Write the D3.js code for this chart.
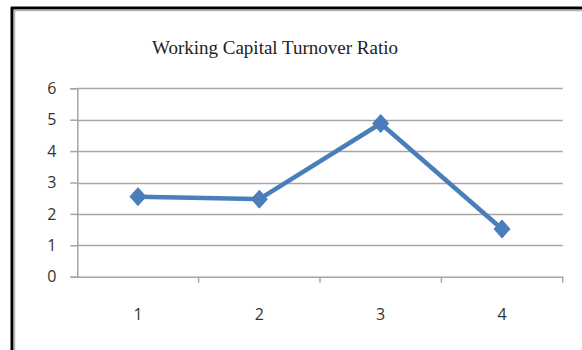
<!DOCTYPE html>
<html><head><meta charset="utf-8">
<script src="https://cdn.jsdelivr.net/npm/d3@7"></script>
<style>body{margin:0;background:#fff}svg{display:block}</style>
</head><body>
<svg id="c" width="582" height="350"></svg>
<script>
const title = "Working Capital Turnover Ratio";
const categories = ["1","2","3","4"];
const values = [2.55, 2.47, 4.88, 1.52];
const yTicks = [0,1,2,3,4,5,6];

const svg = d3.select("#c");
// frame
svg.append("rect").attr("x",0).attr("y",0).attr("width",582).attr("height",350).attr("fill","#fff");
svg.append("line").attr("x1",11).attr("x2",582).attr("y1",8).attr("y2",8).attr("stroke","#000").attr("stroke-width",3);
svg.append("line").attr("x1",12).attr("x2",12).attr("y1",7).attr("y2",350).attr("stroke","#000").attr("stroke-width",3);
svg.append("line").attr("x1",14).attr("x2",582).attr("y1",10.5).attr("y2",10.5).attr("stroke","#b4b4b4").attr("stroke-width",1.5);
svg.append("line").attr("x1",14.5).attr("x2",14.5).attr("y1",10).attr("y2",350).attr("stroke","#b4b4b4").attr("stroke-width",1.5);

const x = d3.scaleBand().domain(categories).range([77.3, 562.7]);
const y = d3.scaleLinear().domain([0,6]).range([276.7, 88.3]);

svg.append("text").attr("x",275).attr("y",54).attr("text-anchor","middle")
  .attr("font-family","'Liberation Serif', serif").attr("font-size",19).attr("fill","#222").text(title);

// gridlines
svg.append("g").selectAll("line").data(yTicks.filter(d=>d>0)).join("line")
  .attr("x1",77.3).attr("x2",562.7).attr("y1",d=>Math.round(y(d))+0.5).attr("y2",d=>Math.round(y(d))+0.5)
  .attr("stroke","#a6a6a6").attr("stroke-width",1.3);

// y axis
const yAxis = svg.append("g").attr("transform","translate(77.3,0)")
  .call(d3.axisLeft(y).tickValues(yTicks).tickFormat(d3.format("d")).tickSize(7).tickPadding(14));
// x axis
const xAxis = svg.append("g").attr("transform",`translate(0,${y(0)})`)
  .call(d3.axisBottom(x).tickSize(0).tickPadding(32));
[yAxis,xAxis].forEach(a=>{
  a.select(".domain").attr("stroke","#a6a6a6").attr("stroke-width",1.5);
  a.selectAll(".tick line").attr("stroke","#a6a6a6").attr("stroke-width",1.5);
  a.selectAll("text").attr("font-family","'Open Sans', sans-serif").attr("font-size",16).attr("fill","#333");
});
// band boundary ticks on x axis
const bounds = categories.map(c=>x(c)).concat([x(categories[categories.length-1])+x.bandwidth()]).slice(1);
svg.append("g").selectAll("line").data(bounds).join("line")
  .attr("x1",d=>d).attr("x2",d=>d).attr("y1",y(0)).attr("y2",y(0)+6)
  .attr("stroke","#a6a6a6").attr("stroke-width",1.5);

// line
const cx = d=>x(d)+x.bandwidth()/2;
svg.append("path").datum(values)
  .attr("d", d3.line().x((d,i)=>cx(categories[i])).y(d=>y(d)))
  .attr("fill","none").attr("stroke","#4a7ebb").attr("stroke-width",4.5).attr("stroke-linejoin","round");
// diamond markers
svg.append("g").selectAll("path").data(values).join("path")
  .attr("transform",(d,i)=>`translate(${cx(categories[i])},${y(d)})`)
  .attr("d","M0,-9L8,0L0,9L-8,0Z")
  .attr("fill","#4a7ebb").attr("stroke","#4a7ebb").attr("stroke-width",1);
</script>
</body></html>
